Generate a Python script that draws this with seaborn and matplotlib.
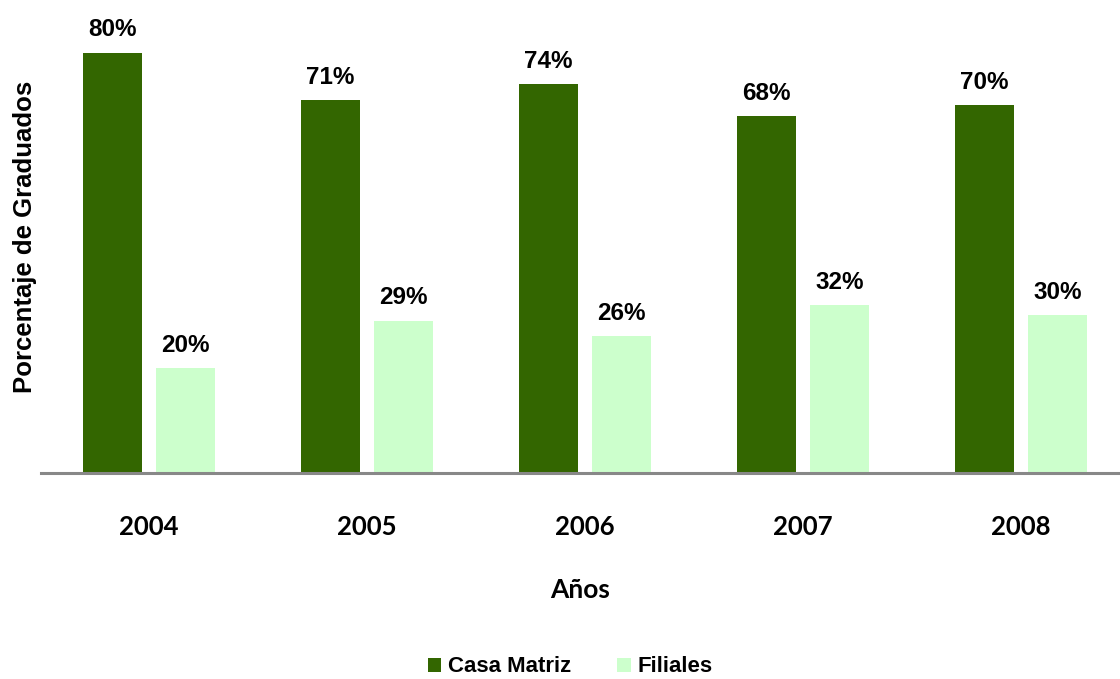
import matplotlib
matplotlib.use("Agg")
import matplotlib.pyplot as plt
import pandas as pd
import seaborn as sns

years = ["2004", "2005", "2006", "2007", "2008"]
casa_matriz = [80, 71, 74, 68, 70]
filiales = [20, 29, 26, 32, 30]
series_names = ["Casa Matriz", "Filiales"]
colors = ["#336600", "#CCFFCC"]

df = pd.DataFrame({
    "year": years * 2,
    "value": casa_matriz + filiales,
    "serie": [series_names[0]] * len(years) + [series_names[1]] * len(years),
})

sns.set_style("white")
plt.rcParams["font.family"] = ["Liberation Sans", "DejaVu Sans"]
plt.rcParams["text.color"] = "black"
plt.rcParams["axes.labelcolor"] = "black"
plt.rcParams["xtick.color"] = "black"

fig = plt.figure(figsize=(11.2, 6.79), dpi=100)
ax = fig.add_axes([41 / 1120, 1 - 473 / 679, 1 - 41 / 1120, 473 / 679])

sns.barplot(
    data=df, x="year", y="value", hue="serie",
    palette=colors, width=0.67, gap=0.19,
    saturation=1, linewidth=0, ax=ax, legend=True,
)

for container in ax.containers:
    ax.bar_label(container, fmt="{:.0f}%", padding=8,
                 fontsize=17.5, fontweight="bold")

ax.set_ylim(0, 90)
ax.set_xlim(-0.495, 4.454)
ax.set_yticks([])
ax.set_ylabel("Porcentaje de Graduados", fontsize=18.5, fontweight="bold",
              labelpad=3)
ax.set_xlabel("Años", fontsize=19, fontweight="bold", family="Lato",
              labelpad=28)
ax.tick_params(axis="x", length=0, pad=30)
for lbl in ax.get_xticklabels():
    lbl.set_fontsize(18.5)
    lbl.set_fontweight("bold")
    lbl.set_family("Lato")

for side in ["top", "right", "left"]:
    ax.spines[side].set_visible(False)
ax.spines["bottom"].set_color("#888888")
ax.spines["bottom"].set_linewidth(2.2)

handles, labels = ax.get_legend_handles_labels()
ax.legend_.remove()
fig.legend(handles, labels, loc="center", bbox_to_anchor=(0.509, 1 - 667 / 679),
           ncol=2, frameon=False, handlelength=0.6, handleheight=0.6,
           handletextpad=0.3, columnspacing=2.1,
           prop={"size": 16, "weight": "bold"})

fig.savefig("out.png", dpi=100)
